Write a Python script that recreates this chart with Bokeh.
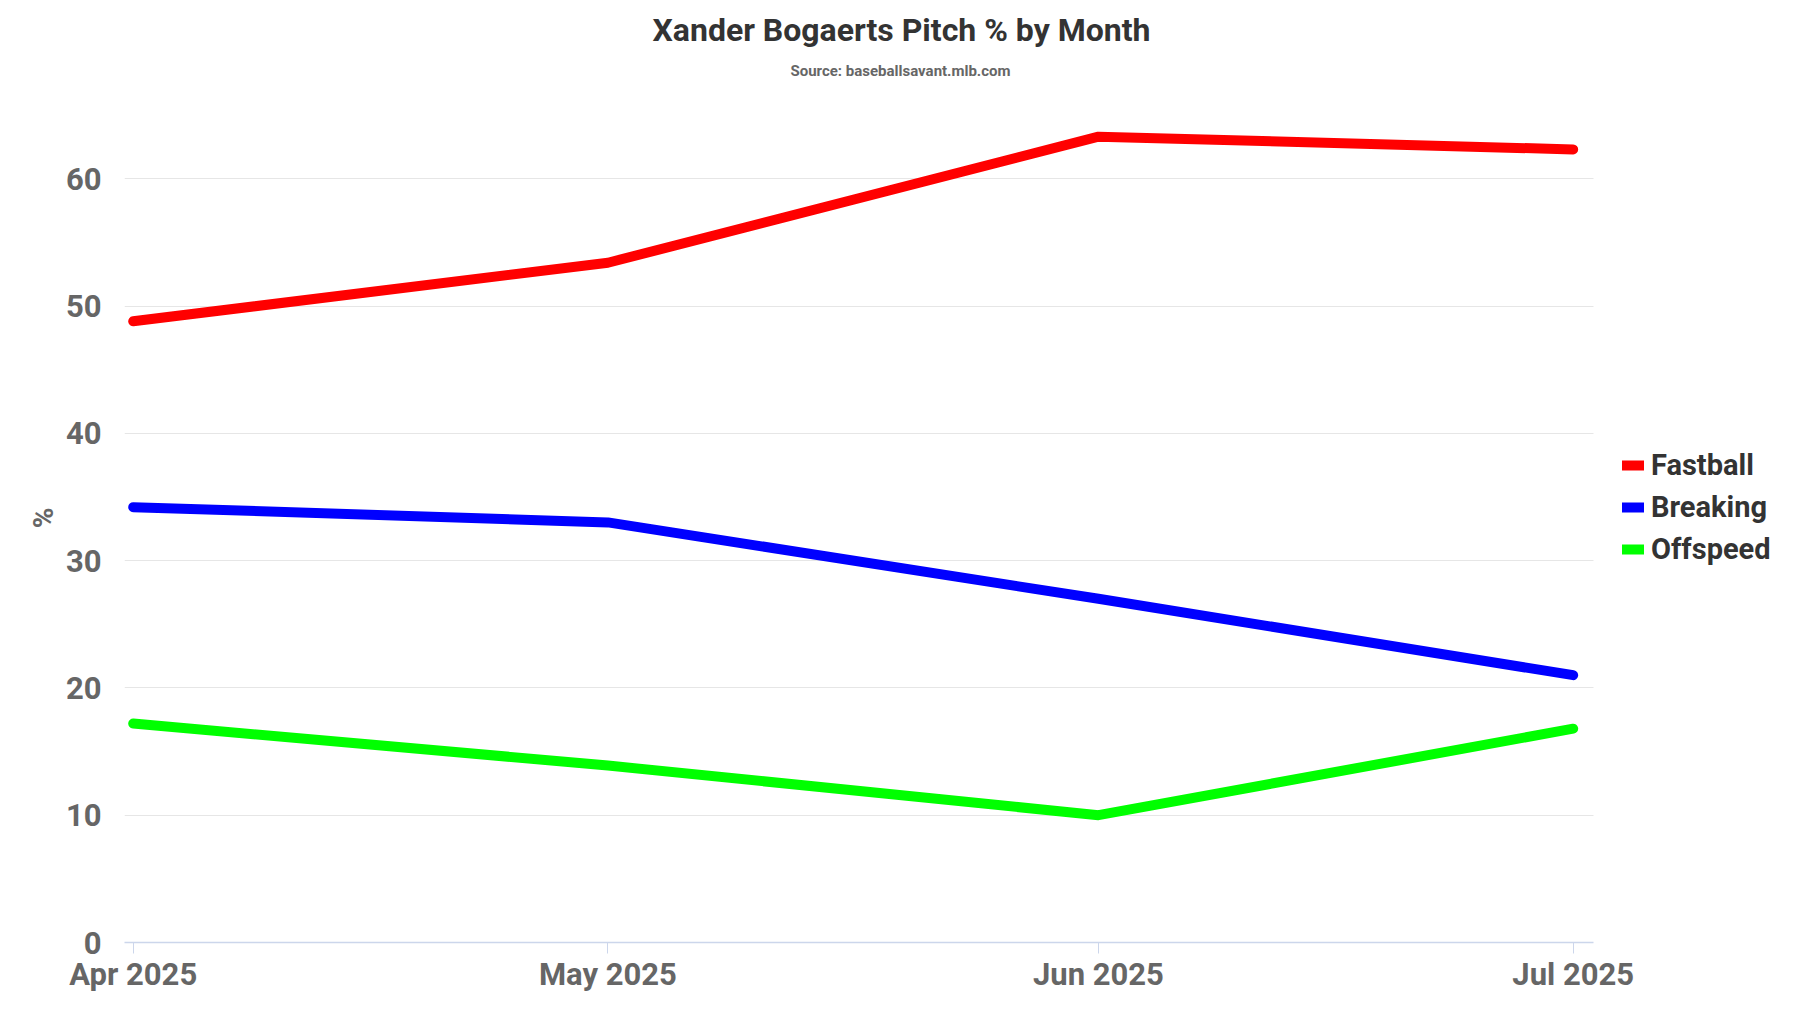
import pandas as pd
from bokeh.plotting import figure
from bokeh.models import Title, Legend, LegendItem, FixedTicker, DatetimeTickFormatter, Range1d
from bokeh.embed import file_html
from bokeh.resources import INLINE

# ---- data ----
months = ["2025-04-01", "2025-05-01", "2025-06-01", "2025-07-01"]
series_names = ["Fastball", "Breaking", "Offspeed"]
fastball = [48.8, 53.4, 63.3, 62.3]
breaking = [34.2, 33.0, 27.0, 21.0]
offspeed = [17.2, 13.9, 10.0, 16.8]
series_colors = ["#ff0000", "#0000ff", "#00ff00"]
y_ticks = [0, 10, 20, 30, 40, 50, 60]
title_text = "Xander Bogaerts Pitch % by Month"
subtitle_text = "Source: baseballsavant.mlb.com"
y_label = "%"

FONT = "Roboto"

# ---- layout (pixels) ----
W, H = 1784, 997
LEFT, TOP, BOTTOM_Y = 124, 93, 942      # frame left / top / zero line (from top)
PX_PER_DAY = 15.824
PAD_LEFT_PX, PAD_RIGHT_PX = 8.7, 20.3
PX_PER_UNIT = 12.73

dates = pd.to_datetime(months)
ms = [d.timestamp() * 1000 for d in dates]
DAY = 86400000.0
x_start = ms[0] - PAD_LEFT_PX / PX_PER_DAY * DAY
x_data_end = ms[-1] + PAD_RIGHT_PX / PX_PER_DAY * DAY
x_end = x_start + (W - LEFT) / PX_PER_DAY * DAY
y_end = (BOTTOM_Y - TOP) / PX_PER_UNIT

p = figure(width=W, height=H, x_axis_type="datetime",
           output_backend="svg", toolbar_location=None, title=None,
           x_range=Range1d(x_start, x_end),
           y_range=Range1d(0, y_end),
           min_border_left=LEFT, min_border_right=0,
           min_border_top=TOP, min_border_bottom=H - BOTTOM_Y)
p.outline_line_color = None
p.background_fill_color = "white"
p.border_fill_color = "white"

renderers = []
for name, vals, col in zip(series_names, [fastball, breaking, offspeed], series_colors):
    r = p.line(x=dates, y=vals, line_width=10, line_color=col,
               line_cap="round", line_join="round")
    renderers.append((name, r))

# grid
p.xgrid.grid_line_color = None
p.ygrid.ticker = FixedTicker(ticks=y_ticks)
p.ygrid.grid_line_color = "#e6e6e6"
p.ygrid.grid_line_width = 1
p.ygrid.cross_bounds = (x_start, x_data_end)

# y axis
p.yaxis.ticker = FixedTicker(ticks=y_ticks)
p.yaxis.axis_line_color = None
p.yaxis.major_tick_line_color = None
p.yaxis.minor_tick_line_color = None
p.yaxis.major_tick_out = 0
p.yaxis.major_tick_in = 0
p.yaxis.major_label_standoff = 23
p.yaxis.major_label_text_font = FONT
p.yaxis.major_label_text_font_style = "bold"
p.yaxis.major_label_text_font_size = "31px"
p.yaxis.major_label_text_color = "#666666"
p.yaxis.axis_label = y_label
p.yaxis.axis_label_text_font = FONT
p.yaxis.axis_label_text_font_style = "bold"
p.yaxis.axis_label_text_font_size = "28px"
p.yaxis.axis_label_text_color = "#666666"
p.yaxis.axis_label_standoff = 3

# x axis
p.xaxis.ticker = FixedTicker(ticks=ms)
p.xaxis.bounds = (x_start, x_data_end)
fmt = "%b %Y"
p.xaxis.formatter = DatetimeTickFormatter(milliseconds=fmt, seconds=fmt, minsec=fmt, minutes=fmt,
                                          hourmin=fmt, hours=fmt, days=fmt, months=fmt, years=fmt)
p.xaxis.axis_line_color = "#ccd6eb"
p.xaxis.axis_line_width = 1.5
p.xaxis.major_tick_line_color = "#ccd6eb"
p.xaxis.major_tick_line_width = 1
p.xaxis.major_tick_out = 11
p.xaxis.major_tick_in = 0
p.xaxis.minor_tick_line_color = None
p.xaxis.major_label_standoff = 2
p.xaxis.major_label_text_font = FONT
p.xaxis.major_label_text_font_style = "bold"
p.xaxis.major_label_text_font_size = "31px"
p.xaxis.major_label_text_color = "#666666"

# titles (stacked above the frame; first added sits closest to the frame)
sub = Title(text=subtitle_text, align="left", offset=666, standoff=28,
            text_font=FONT, text_font_style="bold", text_font_size="15px",
            text_color="#666666")
p.add_layout(sub, "above")
main = Title(text=title_text, align="left", offset=528, standoff=-6,
             text_font=FONT, text_font_style="bold", text_font_size="32px",
             text_color="#333333")
p.add_layout(main, "above")

# legend
legend = Legend(items=[LegendItem(label=n, renderers=[r]) for n, r in renderers],
                location=(1622 - LEFT, BOTTOM_Y - 567), orientation="vertical",
                padding=0, spacing=6, margin=0, glyph_width=22, glyph_height=36,
                label_height=36, label_standoff=7, label_text_font=FONT,
                label_text_font_style="bold", label_text_font_size="29px",
                label_text_color="#333333", label_text_baseline="middle",
                border_line_color=None, background_fill_alpha=0)
p.add_layout(legend, "center")

open("out.html", "w").write(file_html(p, INLINE))
